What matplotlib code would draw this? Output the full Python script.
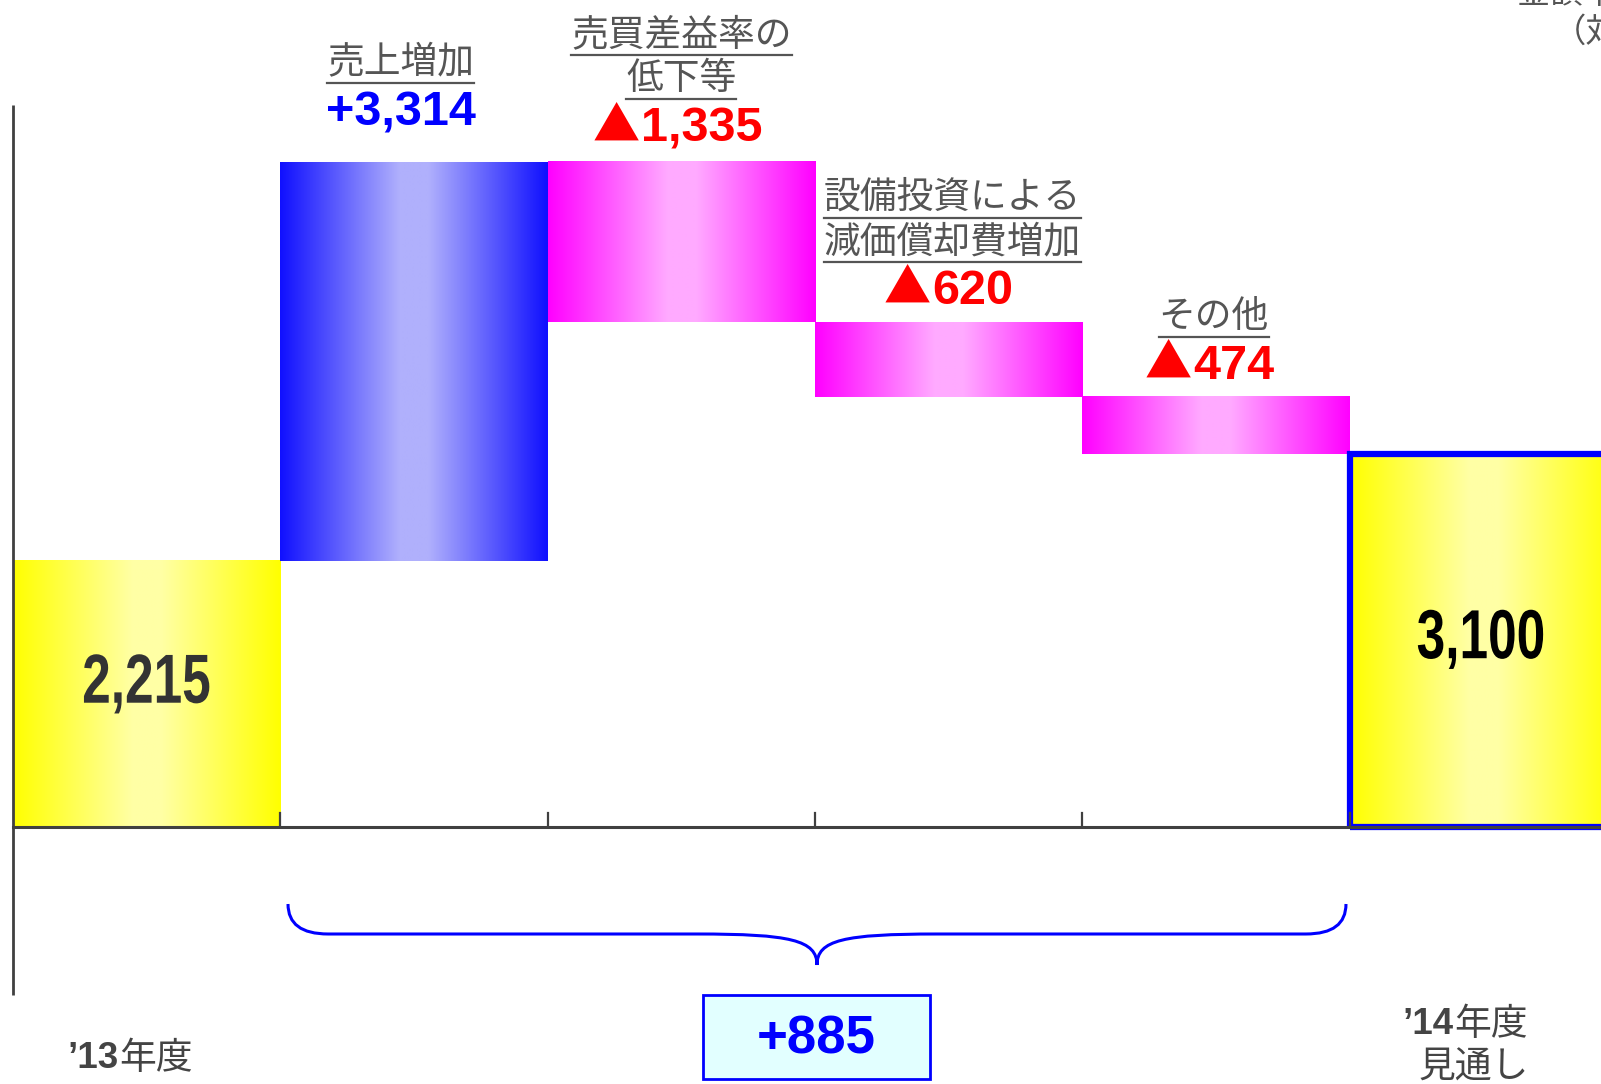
import numpy as np
import matplotlib
matplotlib.use("Agg")
import matplotlib.pyplot as plt
from matplotlib.font_manager import FontProperties
from matplotlib.path import Path
from matplotlib.patches import PathPatch, Rectangle
from matplotlib.textpath import TextPath
from matplotlib.transforms import Affine2D, IdentityTransform

# données (百万円)
debut = 2215
fin = 3100
etapes = [3314, -1335, -620, -474]
noms_etapes = [["売上増加"], ["売買差益率の", "低下等"],
               ["設備投資による", "減価償却費増加"], ["その他"]]
textes_etapes = ["+3,314", "1,335", "620", "474"]
total_variation = "+885"

JP = "Noto Sans CJK JP"
plt.rcParams['font.family'] = ["Liberation Sans", JP, "DejaVu Sans"]

W, H = 1601, 1084
fig = plt.figure(figsize=(W / 100, H / 100), dpi=100)
ax = fig.add_axes([0, 0, 1, 1])
x0_px, unite_px = 13.0, 267.3
base_px, echelle = 827.0, 0.1203
ax.set_xlim(-x0_px / unite_px, (W - x0_px) / unite_px)
ax.set_ylim(-(H - base_px) / echelle, base_px / echelle)
ax.axis('off')


def degrade(x, bas, haut, bord, centre):
    t = np.linspace(0, 1, 256)
    p = 1 - np.abs(t - 0.5) * 2  # 0 au bord, 1 au centre
    p = np.clip(p * 1.12, 0, 1)
    bord = np.array(bord) / 255
    centre = np.array(centre) / 255
    img = bord[None, :] + (centre - bord)[None, :] * p[:, None]
    ax.imshow(img[None, :, :], extent=[x, x + 1, bas, haut], aspect='auto',
              interpolation='bilinear', zorder=2)


JAUNE = ((255, 255, 0), (255, 255, 165))
BLEU = ((16, 16, 255), (176, 176, 252))
ROSE = ((255, 0, 255), (255, 170, 255))

# barres
degrade(0, 0, debut, *JAUNE)
niveau = debut
hauts = []
for i, v in enumerate(etapes):
    bas, haut = sorted([niveau, niveau + v])
    degrade(i + 1, bas, haut, *(BLEU if v > 0 else ROSE))
    hauts.append(max(niveau, niveau + v))
    niveau += v
degrade(5, 0, fin, *JAUNE)
ax.add_patch(Rectangle((5, 0), 1, fin, fill=False, edgecolor='#0000ff',
                       lw=4.5, zorder=4, clip_on=False))

# axes
gris = '#404040'
ax.plot([0, 0], [-1397, 6002], color=gris, lw=2, zorder=5, solid_capstyle='butt')
ax.plot([0, 7], [0, 0], color=gris, lw=2.2, zorder=5)
for i in range(1, 6):
    ax.plot([i, i], [0, 14 / echelle], color=gris, lw=1.6, zorder=5)
ax.set_xlim(-x0_px / unite_px, (W - x0_px) / unite_px)


# valeurs dans les barres (chiffres étroits)
def texte_etroit(x, y, s, couleur, taille=50, sx=0.74):
    tp = TextPath((0, 0), s, size=taille,
                  prop=FontProperties(family="Liberation Sans", weight='bold'))
    ext = tp.get_extents()
    k = 100 / 72
    cx, cy = ax.transData.transform((x, y))
    tr = (Affine2D().translate(-(ext.x0 + ext.x1) / 2, -(ext.y0 + ext.y1) / 2)
          .scale(sx * k, k).translate(cx, cy))
    ax.add_patch(PathPatch(tr.transform_path(tp), transform=IdentityTransform(),
                           facecolor=couleur, edgecolor='none', zorder=6))


texte_etroit(0.5, 1190, f"{debut:,}", '#333333')
texte_etroit(5.49, 1560, f"{fin:,}", 'black')

# étiquettes au-dessus des étapes
decal_valeur = [49, 33, 31, 31]
decal_x = [-13, 0, 4, -2]
etiquettes = []
valeurs_neg = []
for i, v in enumerate(etapes):
    xc = i + 1.5 + decal_x[i] / unite_px
    yv = hauts[i] + decal_valeur[i] / echelle
    if v > 0:
        ax.text(xc, yv, textes_etapes[i], ha='center', va='center', fontsize=35,
                fontweight='bold', color='#0000ff', zorder=6)
    else:
        t = ax.text(xc + 20 / unite_px, yv, textes_etapes[i], ha='center', va='center',
                    fontsize=35, fontweight='bold', color='#ff0000', zorder=6)
        valeurs_neg.append((t, yv))
    lignes = noms_etapes[i]
    for k, ligne in enumerate(lignes):
        haut_px = decal_valeur[i] + 50 + 44 * (len(lignes) - 1 - k)
        t = ax.text(xc, hauts[i] + haut_px / echelle, ligne, ha='center',
                    va='center', fontsize=26.5, color='#555555', family=[JP], zorder=6)
        etiquettes.append(t)

# coin en haut à droite (coupé)
ax.text((1517 - x0_px) / unite_px, (base_px + 6) / echelle, "金額単位：百万円",
        ha='left', va='center', fontsize=24, color='#555555', family=[JP])
ax.text((1553 - x0_px) / unite_px, (base_px - 32) / echelle, "（対前年比）",
        ha='left', va='center', fontsize=24, color='#555555', family=[JP])

# accolade
xa, xb = (288 - x0_px) / unite_px, (1346 - x0_px) / unite_px
xm = (xa + xb) / 2
y_haut, y_mil, y_pointe = -(904 - base_px) / echelle, -(934 - base_px) / echelle, -(965 - base_px) / echelle
r = 0.45
verts = [(xa, y_haut), (xa, y_mil), (xa + 0.15, y_mil), (xa + 0.3, y_mil),
         (xm - r, y_mil), (xm - r, y_mil),
         (xm - 0.1, y_mil), (xm, y_mil - 50), (xm, y_pointe),
         (xm, y_mil - 50), (xm + 0.1, y_mil), (xm + r, y_mil),
         (xb - 0.3, y_mil), (xb - 0.3, y_mil), (xb - 0.15, y_mil),
         (xb, y_mil), (xb, y_haut)]
codes = [Path.MOVETO, Path.CURVE3, Path.CURVE3, Path.LINETO,
         Path.LINETO, Path.LINETO,
         Path.CURVE4, Path.CURVE4, Path.CURVE4,
         Path.CURVE4, Path.CURVE4, Path.CURVE4,
         Path.LINETO, Path.LINETO, Path.LINETO,
         Path.CURVE3, Path.CURVE3]
ax.add_patch(PathPatch(Path(verts, codes), fill=False, edgecolor='#0000ff', lw=2.2, zorder=5))

# boîte du total
bx0, bx1 = (703 - x0_px) / unite_px, (930 - x0_px) / unite_px
by0, by1 = -(1079 - base_px) / echelle, -(995 - base_px) / echelle
ax.add_patch(Rectangle((bx0, by0), bx1 - bx0, by1 - by0, facecolor='#e2ffff',
                       edgecolor='#0000ff', lw=2, zorder=5))
ax.text((bx0 + bx1) / 2, (by0 + by1) / 2 - 2 / echelle, total_variation, ha='center',
        va='center', fontsize=38, fontweight='bold', color='#0000ff', zorder=6)


# libellés des années
def annee(xc_px, yc_px, chiffre, reste):
    xc = (xc_px - x0_px) / unite_px
    yc = -(yc_px - base_px) / echelle
    ax.text(xc, yc, chiffre, ha='right', va='center', fontsize=26.5, fontweight='bold',
            color='#444444')
    ax.text(xc, yc, reste, ha='left', va='center', fontsize=26.5,
            color='#444444', family=[JP])


annee(119, 1059, "’13", "年度")
annee(1454, 1025, "’14", "年度")
ax.text((1474 - x0_px) / unite_px, -(1067 - base_px) / echelle, "見通し", ha='center',
        va='center', fontsize=26.5, color='#444444', family=[JP])

# soulignement des étiquettes et triangles ▲
fig.canvas.draw()
rend = fig.canvas.get_renderer()
for t in etiquettes:
    bb = t.get_window_extent(rend)
    y = bb.y0 - 1
    fig.add_artist(plt.Line2D([bb.x0 / W, bb.x1 / W], [y / H, y / H],
                              color='#555555', lw=1.6))
for t, yv in valeurs_neg:
    bb = t.get_window_extent(rend)
    xg = ax.transData.inverted().transform((bb.x0 - 1, 0))[0]
    ax.text(xg, yv + 2 / echelle, "▲", ha='right', va='center', fontsize=34,
            color='#ff0000', family=[JP], zorder=6)

fig.savefig("out.png", dpi=100)
